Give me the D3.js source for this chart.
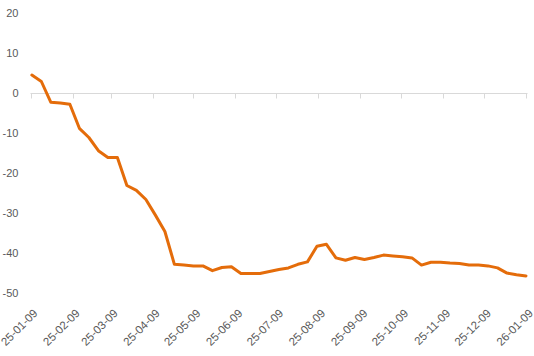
<!DOCTYPE html>
<html><head><meta charset="utf-8">
<script src="https://cdn.jsdelivr.net/npm/d3@7"></script>
<style>body{margin:0;background:#fff}svg{display:block}</style>
</head><body>
<svg id="c" width="534" height="356"></svg>
<script>
const startDate = "2025-01-10";
const values = [4.6,3.0,-2.2,-2.4,-2.7,-8.7,-11,-14.3,-16,-16,-23,-24.2,-26.5,-30.4,-34.5,-42.7,-42.9,-43.1,-43.1,-44.3,-43.5,-43.3,-45,-45,-45,-44.5,-44,-43.6,-42.7,-42.1,-38.2,-37.7,-41.1,-41.7,-41,-41.5,-41,-40.4,-40.6,-40.8,-41.1,-42.9,-42.2,-42.2,-42.4,-42.5,-42.9,-42.9,-43.1,-43.6,-44.9,-45.3,-45.6];
const yTicks = [20,10,0,-10,-20,-30,-40,-50];
const xTickLabels = ["25-01-09","25-02-09","25-03-09","25-04-09","25-05-09","25-06-09","25-07-09","25-08-09","25-09-09","25-10-09","25-11-09","25-12-09","26-01-09"];

const parse = d3.timeParse("%y-%m-%d");
const p0 = d3.timeParse("%Y-%m-%d")(startDate);
const data = values.map((v,i)=>({d:d3.timeDay.offset(p0,7*i), v}));
const tickDates = xTickLabels.map(parse);

const svg = d3.select("#c");
const x = d3.scaleTime().domain([tickDates[0], tickDates[tickDates.length-1]]).range([30.5,526]);
const y = d3.scaleLinear().domain([-50,20]).range([293.5,13.5]);

// y labels
svg.append("g").selectAll("text").data(yTicks).join("text")
  .attr("x",18.5).attr("y",d=>y(d)).attr("dy","0.35em")
  .attr("text-anchor","end")
  .attr("font-family","Liberation Sans, Arial, sans-serif").attr("font-size",11)
  .attr("fill","#595959").text(d=>d);

// axis at 0
const ax = svg.append("g");
ax.append("line").attr("x1",x.range()[0]).attr("x2",x.range()[1]+1.5)
  .attr("y1",Math.round(y(0))+0.5).attr("y2",Math.round(y(0))+0.5)
  .attr("stroke","#d9d9d9").attr("stroke-width",1);
ax.selectAll("line.t").data(tickDates).join("line").attr("class","t")
  .attr("x1",d=>Math.round(x(d))+0.5).attr("x2",d=>Math.round(x(d))+0.5)
  .attr("y1",Math.round(y(0))+0.5).attr("y2",Math.round(y(0))+5.5)
  .attr("stroke","#d9d9d9");

// x labels at bottom
svg.append("g").selectAll("text").data(tickDates).join("text")
  .attr("transform",d=>`translate(${x(d)+5},${311}) rotate(-45)`)
  .attr("text-anchor","end").attr("dy","0.35em")
  .attr("font-family","Liberation Sans, Arial, sans-serif").attr("font-size",11.5)
  .attr("fill","#595959").text((d,i)=>xTickLabels[i]);

// line
svg.append("path").datum(data)
  .attr("d",d3.line().x(d=>x(d.d)).y(d=>y(d.v)))
  .attr("fill","none").attr("stroke","#E46C0A").attr("stroke-width",3)
  .attr("stroke-linejoin","round").attr("stroke-linecap","round");
</script>
</body></html>
